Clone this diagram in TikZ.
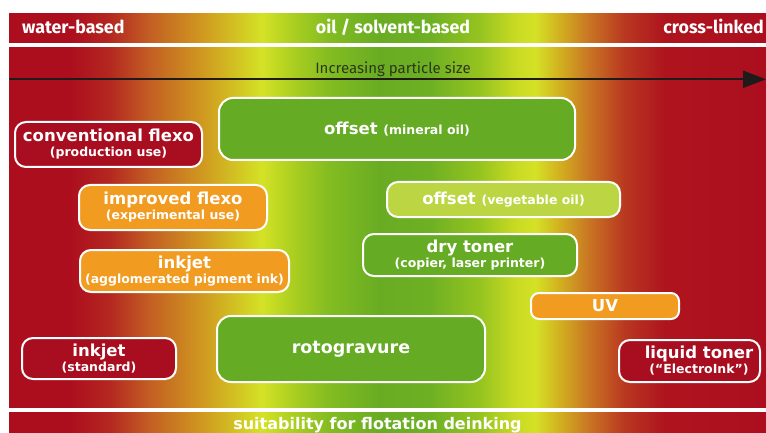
\documentclass[tikz,border=0pt]{standalone}
\usepackage{fontspec}
\setmainfont{DejaVu Sans}
\newfontfamily\bandfont{Fira Sans}
\usetikzlibrary{arrows.meta}
\definecolor{c0}{RGB}{172,14,30}
\definecolor{c1}{RGB}{180,40,32}
\definecolor{c2}{RGB}{195,95,35}
\definecolor{c3}{RGB}{208,150,32}
\definecolor{c4}{RGB}{210,200,35}
\definecolor{c5}{RGB}{212,226,38}
\definecolor{c6}{RGB}{175,208,32}
\definecolor{c7}{RGB}{130,188,33}
\definecolor{c8}{RGB}{105,172,35}
\definecolor{c9}{RGB}{110,176,35}
\definecolor{c10}{RGB}{150,196,32}
\definecolor{c11}{RGB}{200,218,35}
\definecolor{c12}{RGB}{212,226,38}
\definecolor{c13}{RGB}{210,175,32}
\definecolor{c14}{RGB}{200,115,35}
\definecolor{c15}{RGB}{185,55,32}
\definecolor{c16}{RGB}{174,20,30}
\definecolor{boxred}{RGB}{168,14,32}
\definecolor{boxgreen}{RGB}{101,171,36}
\definecolor{boxlight}{RGB}{188,214,67}
\definecolor{boxorange}{RGB}{242,155,33}
\definecolor{arrowcol}{RGB}{32,26,26}
\definecolor{ipstext}{RGB}{45,55,25}
\pgfdeclarehorizontalshading{inkbg}{100bp}{color(0bp)=(c0); color(25bp)=(c0); color(29.03bp)=(c0); color(31.67bp)=(c1); color(34.31bp)=(c2); color(37.62bp)=(c3); color(40.26bp)=(c4); color(41.71bp)=(c5); color(43.56bp)=(c6); color(46.20bp)=(c7); color(49.50bp)=(c8); color(52.81bp)=(c9); color(56.11bp)=(c10); color(58.42bp)=(c11); color(59.74bp)=(c12); color(61.39bp)=(c13); color(63.38bp)=(c14); color(65.69bp)=(c15); color(68.33bp)=(c16); color(75bp)=(c0); color(100bp)=(c0)}
\newcommand\twoline[2]{#1\\{\fontsize{12.5}{15}\selectfont #2}}
\newcommand\subtxt[1]{{\fontsize{12.5}{15}\selectfont #1}}
\begin{document}
\begin{tikzpicture}[x=1pt,y=-1pt,
  inkbox/.style={draw=white, line width=2pt, rounded corners=11pt, text=white,
    align=center, inner sep=0pt, font=\bfseries\fontsize{16.5}{15}\selectfont},
  redbox/.style={inkbox, fill=boxred},
  greenbox/.style={inkbox, fill=boxgreen},
  lightbox/.style={inkbox, fill=boxlight},
  orangebox/.style={inkbox, fill=boxorange},
  boxtext/.style={text=white, align=center, inner sep=0pt, font=\bfseries\fontsize{16.5}{15}\selectfont},
  bandtext/.style={text=white, inner sep=0pt, font=\bandfont\bfseries\fontsize{17.8}{20}\selectfont},
  arrowline/.style={draw=arrowcol, line width=2pt}]
\useasboundingbox (0,0) rectangle (766,433);
\fill[white] (0,0) rectangle (766,433);
\shade[shading=inkbg] (9,14) rectangle (766,433);
\fill[white] (9,43.5) rectangle (766,47.5);
\fill[white] (9,407.5) rectangle (766,412);
% band labels
\node[bandtext, anchor=base west] (wb) at (22,34) {water-based};
\node[bandtext, anchor=base] (os) at (393,34) {oil / solvent-based};
\node[bandtext, anchor=base east] (cl) at (764,34) {cross-linked};
% arrow
\node[anchor=base, inner sep=0pt, text=ipstext, font=\bandfont\fontsize{15}{17}\selectfont] (ips) at (393,74) {Increasing particle size};
\coordinate (as) at (9,79.3);
\coordinate (ae) at (766,79.3);
\draw[arrowline, -{Triangle[length=23pt,width=17pt]}] (as) -- (ae);
% boxes
\node[redbox, minimum width=187, minimum height=45] (cf) at (108.5,144.5) {\twoline{conventional flexo}{(production use)}};
\node[greenbox, rounded corners=14pt, minimum width=356, minimum height=62] (om) at (397,129) {offset \subtxt{(mineral oil)}};
\node[orangebox, minimum width=188, minimum height=45] (if) at (173,207.5) {\twoline{improved flexo}{(experimental use)}};
\node[lightbox, minimum width=233, minimum height=35] (ov) at (503.5,199.5) {offset \subtxt{(vegetable oil)}};
\node[orangebox, minimum width=209, minimum height=42] (ia) at (184.5,271) {\twoline{inkjet}{(agglomerated pigment ink)}};
\node[greenbox, minimum width=214, minimum height=42] (dt) at (470,255) {\twoline{dry toner}{(copier, laser printer)}};
\node[orangebox, rounded corners=8pt, minimum width=148, minimum height=26] (uv) at (605,306) {UV};
\node[redbox, minimum width=154, minimum height=41] (is) at (99,358.5) {\twoline{inkjet}{(standard)}};
\node[greenbox, rounded corners=14pt, minimum width=268, minimum height=66, font=\bfseries\fontsize{17.5}{15}\selectfont] (rg) at (351,349) {rotogravure};
\node[redbox, minimum width=141, minimum height=42] (lt) at (689.5,361) {};
\node[boxtext] (ltt) at ([xshift=9.5pt]lt.center) {\twoline{liquid toner}{(“ElectroInk”)}};
% bottom label
\node[anchor=base, inner sep=0pt, text=white, font=\bfseries\fontsize{16}{18}\selectfont] (sf) at (377.5,429) {suitability for flotation deinking};
\end{tikzpicture}
\end{document}
